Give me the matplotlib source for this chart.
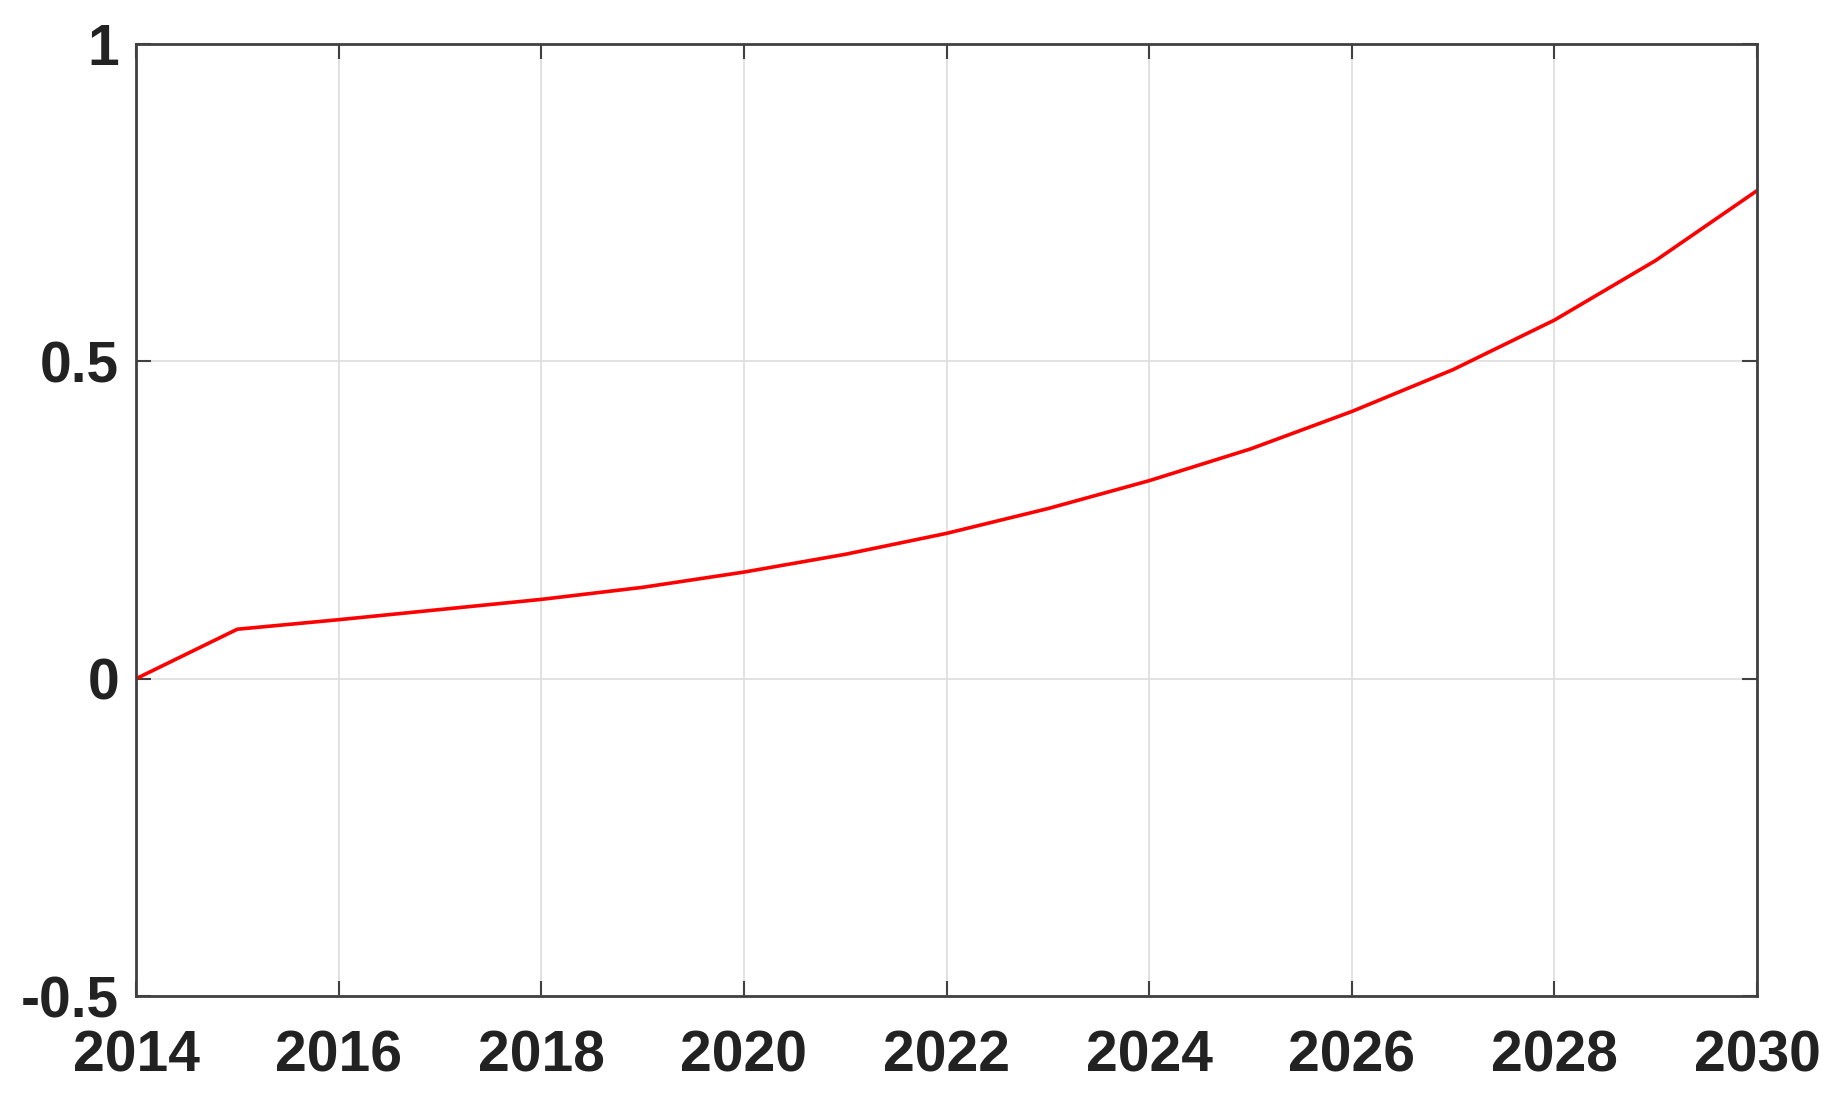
import matplotlib
matplotlib.use('Agg')
import matplotlib.pyplot as plt

# 数据：从图中读取
years = [2014, 2015, 2016, 2017, 2018, 2019, 2020, 2021, 2022,
         2023, 2024, 2025, 2026, 2027, 2028, 2029, 2030]
values = [0.0, 0.078, 0.093, 0.109, 0.125, 0.144, 0.168, 0.196, 0.229,
          0.268, 0.312, 0.362, 0.421, 0.487, 0.565, 0.659, 0.769]
xticks = [2014, 2016, 2018, 2020, 2022, 2024, 2026, 2028, 2030]
yticks = [-0.5, 0, 0.5, 1]
ytick_labels = ['-0.5', '0', '0.5', '1']

plt.rcParams['font.family'] = ['Liberation Sans', 'DejaVu Sans']

fig = plt.figure(figsize=(18.37, 11.13), dpi=100)
ax = fig.add_axes([0.074, 0.105, 0.8825, 0.8555])

ax.plot(years, values, color='#ff0000', linewidth=2.6)

ax.set_xlim(2014, 2030)
ax.set_ylim(-0.5, 1)
ax.set_xticks(xticks)
ax.set_yticks(yticks)
ax.set_yticklabels(ytick_labels)

ax.grid(True, color='#dddddd', linewidth=1.2)
ax.set_axisbelow(True)

for s in ax.spines.values():
    s.set_color('#404040')
    s.set_linewidth(2.0)

ax.tick_params(direction='in', length=11, width=1.5, color='#404040',
               top=True, right=True, labelsize=41)
ax.tick_params(axis='x', pad=24)
ax.tick_params(axis='y', pad=12)
for lab in ax.get_xticklabels() + ax.get_yticklabels():
    lab.set_fontweight('bold')
    lab.set_color('#222222')

fig.savefig('out.png', dpi=100, facecolor='white')
